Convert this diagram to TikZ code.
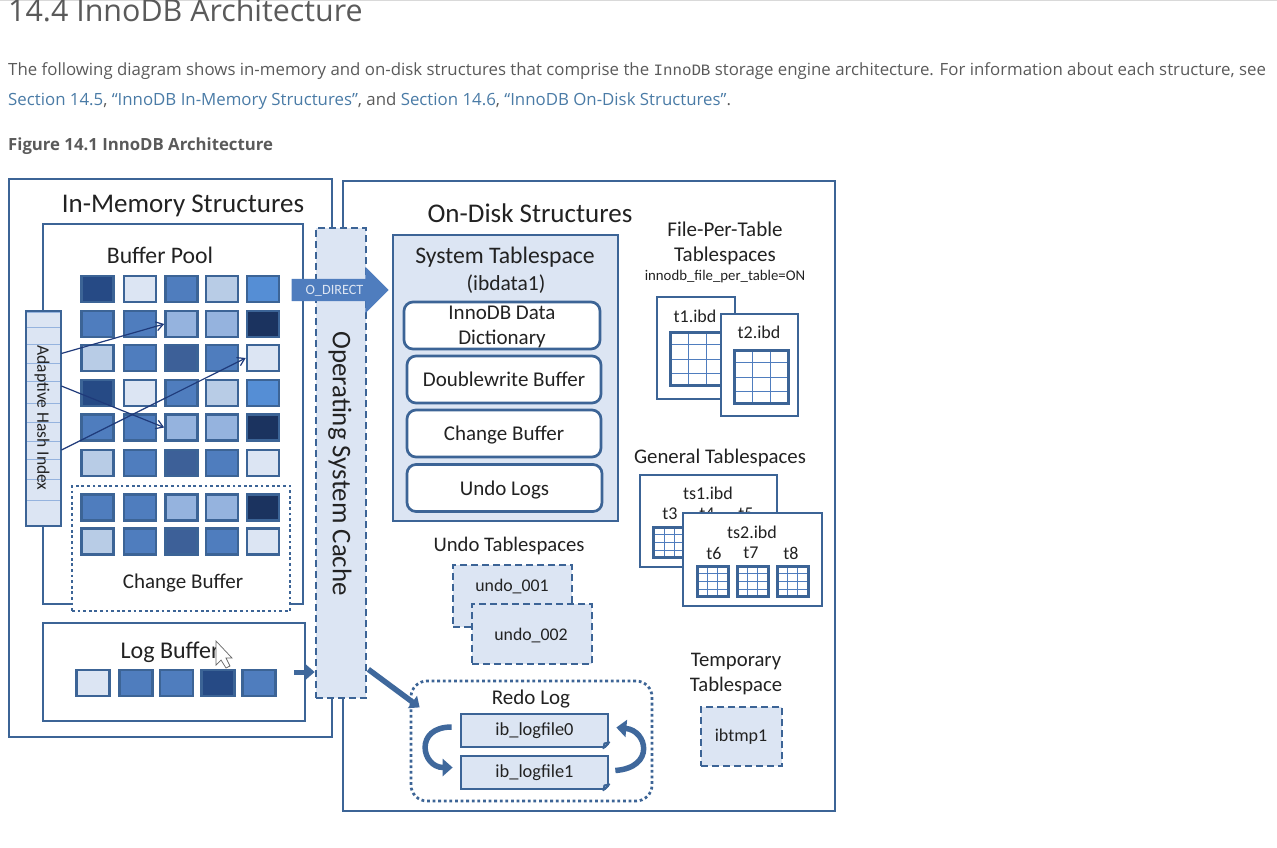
\documentclass[tikz,border=0pt]{standalone}
\usepackage{fontspec}
\setmainfont{Carlito}
\newfontfamily\pagefont{Open Sans}
\newfontfamily\pagemono{Liberation Mono}
\usetikzlibrary{arrows.meta,calc,shapes.arrows}
\definecolor{linecol}{HTML}{3C6496}
\definecolor{inkcol}{HTML}{222222}
\definecolor{pagegray}{HTML}{5A5A5A}
\definecolor{linkcol}{HTML}{4A7BA6}
\definecolor{pale}{HTML}{DCE5F3}
\definecolor{light}{HTML}{B8CCE6}
\definecolor{midl}{HTML}{95B3DE}
\definecolor{mid}{HTML}{4F7DBE}
\definecolor{bright}{HTML}{558ED5}
\definecolor{steel}{HTML}{3D6098}
\definecolor{dark}{HTML}{264A85}
\definecolor{darkest}{HTML}{1B335F}
\definecolor{ptrcol}{HTML}{1F3A7A}
\newcommand{\fs}[2]{\fontsize{#1}{#2}\selectfont}
\tikzset{
    box/.style = {draw=linecol, line width=2.7pt, fill=white, inner sep=0pt},
    cell/.style = {draw=linecol, line width=2.6pt, minimum width=32pt, minimum height=26pt, inner sep=0pt},
    hashcell/.style = {draw=midl, line width=.8pt, fill=pale, minimum width=35pt, inner sep=0pt},
    ospart/.style = {box, fill=pale, dash pattern=on 7pt off 4pt},
    dotpart/.style = {box, dash pattern=on 2.8pt off 2.8pt},
    slot/.style = {box, rounded corners=9pt, font=\fs{21}{25}, text=inkcol, align=center, text height=17pt, text depth=3pt},
    logfile/.style = {box, fill=pale, minimum width=147pt, minimum height=33pt, font=\fs{18.4}{20}, text=inkcol},
    tbl/.style = {fill=white, inner sep=0pt},
    label/.style = {text=inkcol, inner sep=0pt, align=center},
    pageline/.style = {anchor=base west, inner sep=0pt, text=pagegray, font=\pagefont\fs{16.83}{20}},
    ptr/.style = {draw=ptrcol, line width=1.2pt, -{Straight Barb[length=7pt,width=9pt]}},
    fat/.style = {draw=linecol!85!mid, line width=5.5pt, -{Triangle[length=10pt,width=17pt]}}
}
% thin rows and columns inside a small table, then its outline
\newcommand{\tblgrid}[1]{
    \draw[mid, line width=1pt]
        ($(#1.north west)!.33!(#1.north east)$) -- ($(#1.south west)!.33!(#1.south east)$)
        ($(#1.north west)!.66!(#1.north east)$) -- ($(#1.south west)!.66!(#1.south east)$)
        ($(#1.north west)!.22!(#1.south west)$) -- ($(#1.north east)!.22!(#1.south east)$)
        ($(#1.north west)!.50!(#1.south west)$) -- ($(#1.north east)!.50!(#1.south east)$)
        ($(#1.north west)!.77!(#1.south west)$) -- ($(#1.north east)!.77!(#1.south east)$);
    \draw[linecol, line width=2.8pt] (#1.south west) rectangle (#1.north east);
}
\begin{document}
\begin{tikzpicture}[x=1pt,y=-1pt]
    \useasboundingbox (0,0) rectangle (1277,847);
    \draw[black!15, line width=1.5pt] (0,0.5) -- (1277,0.5);
    % page text
    \node[pageline, font=\pagefont\fs{30.4}{34}] (head) at (8,21) {14.4 InnoDB Architecture};
    \node[pageline] (para1) at (8,75) {The following diagram shows in-memory and on-disk structures that comprise the {\pagemono\fs{15.8}{20}InnoDB} storage engine architecture. For information about each structure, see};
    \node[pageline] (para2) at (8,105) {\textcolor{linkcol}{Section 14.5}, \textcolor{linkcol}{“InnoDB In-Memory Structures”}, and \textcolor{linkcol}{Section 14.6}, \textcolor{linkcol}{“InnoDB On-Disk Structures”}.};
    \node[pageline, font=\pagefont\bfseries\fs{16.75}{20}] (figcap) at (8,150) {Figure 14.1 InnoDB Architecture};

    % in-memory side
    \node[box, minimum width=323pt, minimum height=558pt] (mem) at (170.5,458) {};
    \node[label, font=\fs{27}{30}] (memtitle) at (183,206) {In-Memory Structures};
    \node[box, minimum width=260pt, minimum height=380pt] (pool) at (173,414) {};
    \node[label, font=\fs{23.7}{26}] (pooltitle) at (160,255) {Buffer Pool};
    \node[box, dotpart, minimum width=218pt, minimum height=125pt] (chg) at (181,548.5) {};
    \node[label, font=\fs{21}{22}] (chgtitle) at (183,583) {Change Buffer};
    \foreach \r/\y/\ca/\cb/\cc/\cd/\ce in {
        1/289/dark/pale/mid/light/bright,
        2/324/mid/mid/midl/midl/darkest,
        3/358/light/mid/steel/mid/pale,
        4/393/dark/pale/mid/light/bright,
        5/427.5/mid/mid/midl/midl/darkest,
        6/463/light/mid/steel/mid/pale,
        7/507.5/mid/mid/midl/midl/darkest,
        8/541.5/light/mid/steel/mid/pale}{
        \node[cell, fill=\ca] (r\r c1) at (97.5,\y) {};
        \node[cell, fill=\cb] (r\r c2) at (140,\y) {};
        \node[cell, fill=\cc] (r\r c3) at (181.5,\y) {};
        \node[cell, fill=\cd] (r\r c4) at (222,\y) {};
        \node[cell, fill=\ce] (r\r c5) at (263,\y) {};
    }
    \foreach \n/\y/\h in {1/319.5/15,2/335.5/17,3/353.5/19,4/372/18,5/392/22,6/412.5/19,7/431.5/19,8/450/18,9/469/20,10/489.5/21,11/512.5/25}{
        \node[hashcell, minimum height=\h pt] (hc\n) at (43.5,\y) {};
    }
    \node[draw=linecol, line width=2.6pt, minimum width=35pt, minimum height=215pt, inner sep=0pt] (hash) at (43.5,418.5) {};
    \node[label, rotate=-90, font=\fs{17.5}{20}] (hashtitle) at (42,418) {Adaptive Hash Index};
    \draw[ptr] (hc3.east) -- (r2c3.west);
    \draw[ptr] ([yshift=6pt]hc5.east) -- (r5c3.west);
    \draw[ptr] (hc8.east) -- (r3c5.west);

    \node[box, minimum width=262pt, minimum height=98pt] (logbuf) at (174,672) {};
    \node[label, font=\fs{24}{26}] (logtitle) at (170,652) {Log Buffer};
    \foreach \n/\x/\c in {1/93/pale,2/136/mid,3/176.5/mid,4/218/dark,5/259/mid}{
        \node[cell, minimum width=33pt, fill=\c] (lg\n) at (\x,683) {};
    }

    % on-disk side
    \node[box, minimum width=492pt, minimum height=630pt] (disk) at (589,496) {};
    \node[label, font=\fs{27}{30}] (disktitle) at (530,213) {On-Disk Structures};
    \node[box, fill=pale, minimum width=225pt, minimum height=286pt] (sys) at (505.5,378) {};
    \node[label, font=\fs{23.7}{26}] (systitle) at (505,257) {System Tablespace};
    \node[label, font=\fs{21.5}{22}] (sysfile) at (506,284) {(ibdata1)};
    \node[slot, text height=0pt, text depth=0pt, minimum width=196pt, minimum height=47pt] (dict) at (502,325.5) {};
    \node[label, font=\fs{21}{25}] (dicttext) at (502,326.5) {InnoDB Data\\Dictionary};
    \node[slot, minimum width=194pt, minimum height=47pt] (dblw) at (504,379.5) {Doublewrite Buffer};
    \node[slot, minimum width=194pt, minimum height=47pt] (chgb) at (504,433.5) {Change Buffer};
    \node[slot, minimum width=195pt, minimum height=47pt] (undl) at (504.5,488) {Undo Logs};

    % file-per-table
    \node[label, font=\fs{21}{25}] (fpttitle) at (725,243.5) {File-Per-Table\\Tablespaces};
    \node[label, font=\fs{14.8}{16}] (fptopt) at (725,277) {innodb\_file\_per\_table=ON};
    \node[box, minimum width=78pt, minimum height=102pt] (t1box) at (696,348) {};
    \node[label, font=\fs{18}{20}] (t1name) at (695,316) {t1.ibd};
    \node[tbl, minimum width=53pt, minimum height=52pt] (t1tbl) at (697.5,359) {};
    \tblgrid{t1tbl}
    \node[box, minimum width=77pt, minimum height=102pt] (t2box) at (759.5,365) {};
    \node[label, font=\fs{18}{20}] (t2name) at (759,332) {t2.ibd};
    \node[tbl, minimum width=53pt, minimum height=52pt] (t2tbl) at (761.5,377) {};
    \tblgrid{t2tbl}

    % general tablespaces
    \node[label, font=\fs{20.8}{22}] (gentitle) at (720,458) {General Tablespaces};
    \node[box, minimum width=137pt, minimum height=92pt] (ts1box) at (708.5,521) {};
    \node[label, font=\fs{18}{20}] (ts1name) at (708,493) {ts1.ibd};
    \foreach \n/\x in {3/670,4/707,5/746}{
        \node[label, font=\fs{18}{20}] (t\n name) at (\x,514) {t\n};
    }
    \node[tbl, minimum width=31pt, minimum height=29pt] (t3tbl) at (669.5,542.5) {};
    \tblgrid{t3tbl}
    \node[box, minimum width=139pt, minimum height=93pt] (ts2box) at (752.5,559.5) {};
    \node[label, font=\fs{18}{20}] (ts2name) at (752,532) {ts2.ibd};
    \foreach \n/\x/\tx in {6/713/714,7/753/751,8/793/791}{
        \node[label, font=\fs{18}{20}] (t\n name) at (\tx,553) {t\n};
        \node[tbl, minimum width=30pt, minimum height=29pt] (t\n tbl) at (\x,581.5) {};
        \tblgrid{t\n tbl}
    }

    % undo tablespaces
    \node[label, font=\fs{20.7}{22}] (undotitle) at (509,546) {Undo Tablespaces};
    \node[ospart, minimum width=119pt, minimum height=62pt] (undo1) at (512.5,596) {};
    \node[label, font=\fs{17.8}{20}] (undo1name) at (512,586.5) {undo\_001};
    \node[ospart, minimum width=120pt, minimum height=60pt] (undo2) at (532,634) {};
    \node[label, font=\fs{17.8}{20}] (undo2name) at (531,636) {undo\_002};

    % redo log
    \node[box, dotpart, rounded corners=16pt, minimum width=241pt, minimum height=120pt] (redo) at (531.5,741) {};
    \node[label, font=\fs{21}{22}] (redotitle) at (531,699) {Redo Log};
    \node[logfile] (log0) at (534.5,730.5) {\raisebox{2pt}{ib\_logfile0}};
    \node[logfile] (log1) at (534.5,772.5) {\raisebox{2pt}{ib\_logfile1}};
    \foreach \f in {log0,log1}{
        \fill[white] ([xshift=-6pt,yshift=-2pt]\f.south east) -- ([xshift=2pt,yshift=6pt]\f.south east) -- ([xshift=2pt,yshift=-2pt]\f.south east) -- cycle;
        \draw[linecol, line width=1.8pt, line join=round] ([xshift=-6pt]\f.south east) -- ([yshift=6pt]\f.south east) -- ([xshift=-5pt,yshift=5pt]\f.south east) -- cycle;
    }
    \draw[fat] ([xshift=-8pt,yshift=3.5pt]log0.west) .. controls +(-38pt,0pt) and ([xshift=-38pt,yshift=5pt]log1.west) .. ([xshift=-7pt,yshift=5pt]log1.west);
    \draw[fat] ([xshift=6pt,yshift=2pt]log1.east) .. controls +(40pt,3pt) and ([xshift=38pt,yshift=0pt]log0.east) .. ([xshift=7pt,yshift=3pt]log0.east);

    % temporary tablespace
    \node[label, font=\fs{20.7}{25}] (tmptitle) at (736,674.5) {Temporary\\Tablespace};
    \node[ospart, minimum width=81pt, minimum height=59pt] (tmp) at (741.5,736.5) {};
    \node[label, font=\fs{18}{20}] (tmpname) at (741,737) {ibtmp1};

    % operating system cache lies over both sides
    \node[ospart, minimum width=50pt, minimum height=470pt] (oscache) at (341,463) {};
    \node[label, rotate=-90, font=\fs{26.9}{28}] (ostitle) at (340,463.5) {Operating System Cache};
    \node[single arrow, fill=mid, draw=none, inner sep=0pt, single arrow head extend=12pt, minimum width=46pt, minimum height=97pt, text height=15pt, text depth=7pt, text width=70pt, align=center, text=pale, font=\fs{14.2}{16}] (odirect) at (334.5,290) {O\_DIRECT};
    \draw[fat, line width=5pt, -{Triangle[length=9pt,width=15pt]}] ([xshift=-12pt]logbuf.east) -- (oscache.west |- logbuf.east);
    \draw[fat, -{Triangle[length=9pt,width=15pt]}] ([yshift=30pt,xshift=1pt]oscache.south east) -- ([xshift=10pt,yshift=1pt]redo.165);

    % mouse pointer left in the capture
    \draw[black!60, fill=white, line width=.7pt] (216,641) -- (216,665) -- (221,660) -- (226,668) -- (230,666) -- (226,658) -- (232,658) -- cycle;
\end{tikzpicture}
\end{document}
